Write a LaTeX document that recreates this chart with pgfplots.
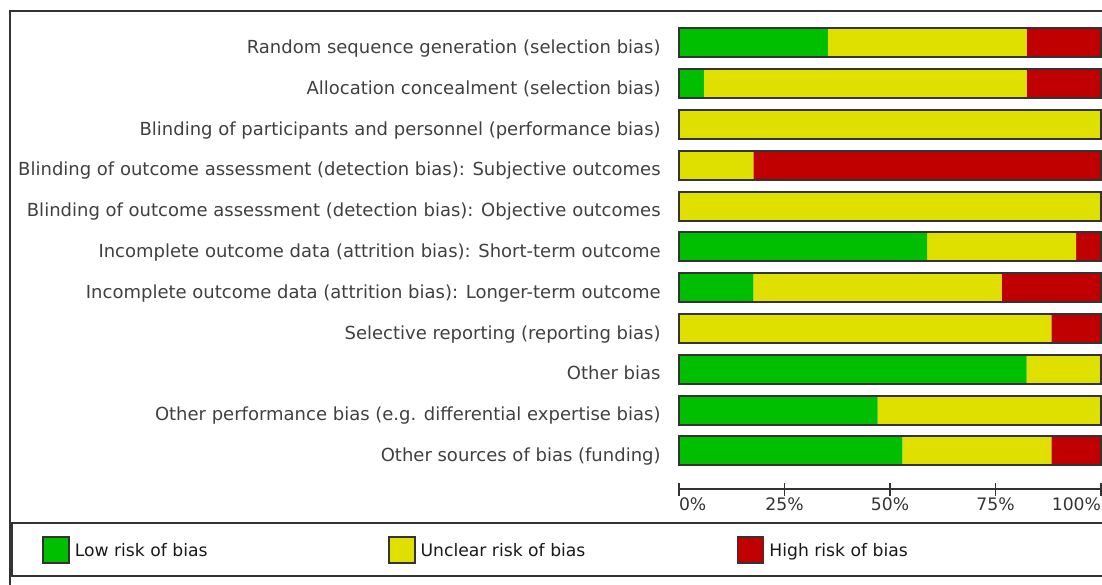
\documentclass[border=0pt]{standalone}
\usepackage{fontspec}
\setmainfont{DejaVu Sans}
\usepackage{pgfplots}
\pgfplotsset{compat=1.18}
\definecolor{lowc}{RGB}{0,191,0}
\definecolor{uncc}{RGB}{224,224,0}
\definecolor{highc}{RGB}{192,0,0}
\definecolor{edge}{RGB}{51,51,51}
\definecolor{lab}{RGB}{64,64,64}
\begin{document}
\begin{tikzpicture}
\useasboundingbox (0,0) rectangle (551pt,-292pt);
\begin{scope}
\clip (0,0) rectangle (551pt,-292pt);
\draw[edge, line width=1pt] (5pt,-300pt) -- (5pt,-5.25pt) -- (560pt,-5.25pt);
\draw[edge, line width=0.8pt] (6pt,-261.5pt) rectangle (560pt,-288pt);
\end{scope}
\begin{axis}[
 at={(339.5pt,-244.5pt)}, anchor=south west,
 scale only axis, width=211pt, height=233.3pt,
 xmin=0, xmax=100, ymin=0.064, ymax=11.5,
 xbar stacked, bar width=14.5pt,
 axis x line*=bottom, axis y line*=left,
 y axis line style={draw=none},
 x axis line style={edge, line width=0.9pt},
 xtick={0,25,50,75,100}, xticklabels={\makebox[0pt][l]{0\%},25\%,50\%,75\%,\makebox[0pt][r]{100\%}},
 xtick align=center, major tick length=6.5pt,
 x tick style={edge, line width=0.9pt},
 ytick={1,...,11}, y tick style={draw=none},
 yticklabels={Other sources of bias (funding),Other performance bias (e.g. differential expertise bias),Other bias,Selective reporting (reporting bias),Incomplete outcome data (attrition bias): Longer-term outcome,Incomplete outcome data (attrition bias): Short-term outcome,Blinding of outcome assessment (detection bias): Objective outcomes,Blinding of outcome assessment (detection bias): Subjective outcomes,Blinding of participants and personnel (performance bias),Allocation concealment (selection bias),Random sequence generation (selection bias)},
 yticklabel style={font=\fontsize{9}{11}\selectfont, text=lab, anchor=base east, inner sep=0pt, xshift=-9pt, yshift=-5.3pt},
 xticklabel style={font=\fontsize{8.6}{10}\selectfont, text=black!80, anchor=north, inner sep=0pt, yshift=-1pt},
 clip=false,
 legend columns=3,
 legend style={at={(-1.5095,-0.1307)}, anchor=west, draw=none, fill=none, inner sep=0pt, outer sep=0pt, column sep=0pt, font=\fontsize{8.6}{10}\selectfont, text=black!90, nodes={inner sep=0pt}},
 legend cell align=left,
 legend image code/.code={\draw[#1, draw=edge, line width=0.9pt] (0pt,-5.8pt) rectangle (13pt,7.2pt);},
]
\addplot[fill=lowc, draw=none] coordinates {(52.94,1) (47.06,2) (82.35,3) (0,4) (17.65,5) (58.82,6) (0,7) (0,8) (0,9) (5.88,10) (35.29,11)};
\addplot[fill=uncc, draw=none] coordinates {(35.29,1) (52.94,2) (17.65,3) (88.24,4) (58.82,5) (35.29,6) (100,7) (17.65,8) (100,9) (76.47,10) (47.06,11)};
\addplot[fill=highc, draw=none] coordinates {(11.76,1) (0,2) (0,3) (11.76,4) (23.53,5) (5.88,6) (0,7) (82.35,8) (0,9) (17.65,10) (17.65,11)};
\addlegendentry{\hspace{2.5pt}\makebox[156.5pt][l]{Low risk of bias}}
\addlegendentry{\hspace{2.5pt}\makebox[158pt][l]{Unclear risk of bias}}
\addlegendentry{\hspace{2.5pt}High risk of bias}
\end{axis}
\begin{axis}[
 at={(339.5pt,-244.5pt)}, anchor=south west,
 scale only axis, width=211pt, height=233.3pt,
 xmin=0, xmax=100, ymin=0.064, ymax=11.5,
 hide axis, clip=false,
 xbar, bar width=14.5pt,
]
\addplot[fill=none, draw=edge, line width=1pt] coordinates {(100,1) (100,2) (100,3) (100,4) (100,5) (100,6) (100,7) (100,8) (100,9) (100,10) (100,11)};
\end{axis}
\end{tikzpicture}
\end{document}
